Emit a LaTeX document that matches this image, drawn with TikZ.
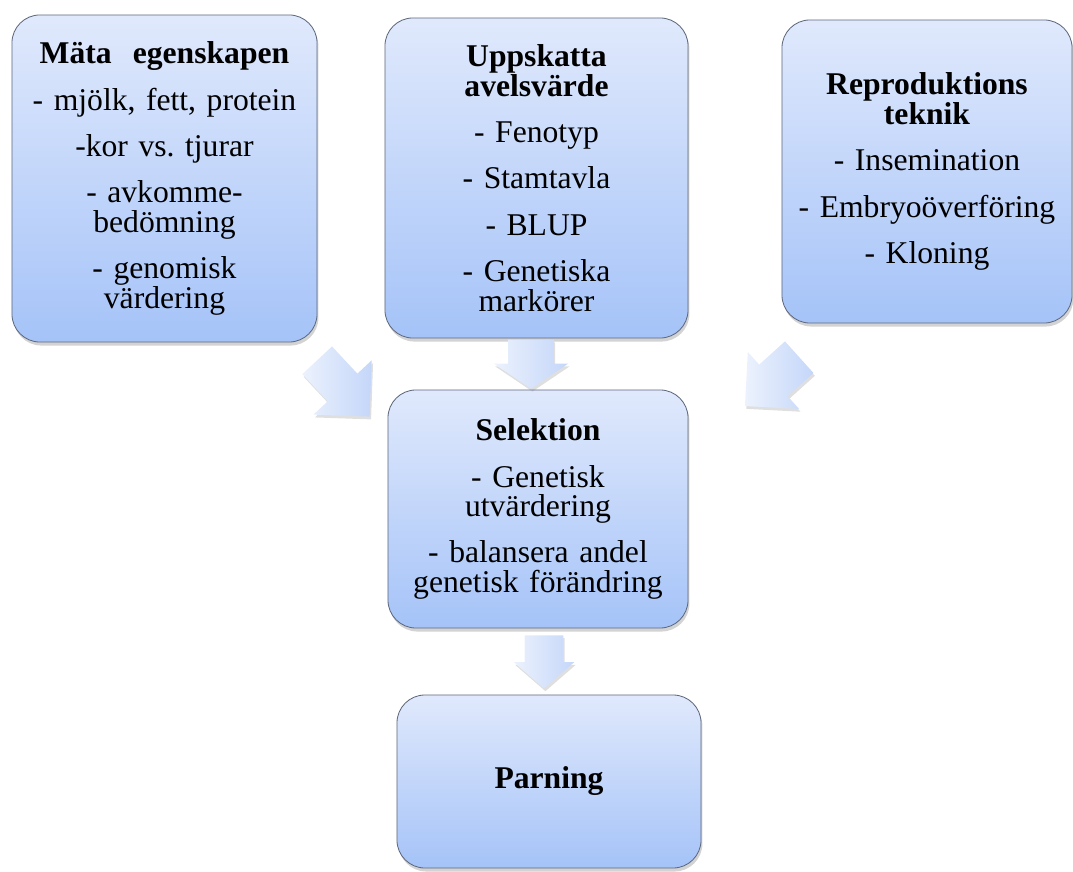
\documentclass[tikz,border=0pt]{standalone}
\usepackage{fontspec}
\setmainfont{Liberation Serif}
\usetikzlibrary{shapes.arrows,shadows}
\definecolor{boxtop}{RGB}{224,233,252}
\definecolor{boxbot}{RGB}{165,195,248}
\definecolor{boxline}{RGB}{95,105,125}
\definecolor{piltop}{RGB}{236,242,253}
\definecolor{pilbot}{RGB}{196,214,249}

\begin{document}
\begin{tikzpicture}[x=0.025cm,y=-0.025cm,
  ruta/.style={draw=boxline, line width=0.6pt, rounded corners=7mm,
    top color=boxtop, bottom color=boxbot,
    drop shadow={shadow xshift=1pt,shadow yshift=-2.5pt,opacity=0.35},
    align=center, text width=6.9cm, inner sep=2pt,
    font=\fontsize{22.5}{21}\selectfont\frenchspacing},
  pil/.style={single arrow, draw=none, inner xsep=0pt,
    left color=piltop, right color=pilbot,
    drop shadow={shadow xshift=1pt,shadow yshift=-2pt,opacity=0.25}}]
\useasboundingbox (0,0) rectangle (1073,872);

% rutor
\node[ruta, minimum width=7.625cm, minimum height=8.175cm] (maata) at (164.5,178.5)
  {\textbf{Mäta\ \ egenskapen}\\[12pt] - mjölk, fett, protein\\[12pt] -kor vs. tjurar\\[12pt]
   - avkomme-\\bedömning\\[12pt] - genomisk\\värdering};
\node[ruta, minimum width=7.575cm, minimum height=8cm] (uppsk) at (536.5,178)
  {\textbf{Uppskatta}\\\textbf{avelsvärde}\\[12pt] - Fenotyp\\[12pt] - Stamtavla\\[12pt]
   - BLUP\\[12pt] - Genetiska\\markörer};
\node[ruta, minimum width=7.25cm, minimum height=7.575cm] (repro) at (927,171.5)
  {\textbf{Reproduktions}\\\textbf{teknik}\\[12pt] - Insemination\\[12pt]
   - Embryoöverföring\\[12pt] - Kloning};
\node[ruta, minimum width=7.5cm, minimum height=5.95cm] (selek) at (538,509)
  {\textbf{Selektion}\\[12pt] - Genetisk\\utvärdering\\[12pt] - balansera andel\\genetisk förändring};
\node[ruta, minimum width=7.6cm, minimum height=4.325cm] (parn) at (549,781.5)
  {\textbf{Parning}};

% pilar
\node[pil, rotate=-47, minimum height=1.925cm, inner ysep=0.5cm,
  single arrow head extend=0.4875cm, single arrow tip angle=90] (pilA) at (336.5,381) {};
\node[pil, rotate=-90, minimum height=1.225cm, inner ysep=0.5625cm,
  single arrow head extend=0.3625cm, single arrow tip angle=112] (pilB) at (531,356.5) {};
\node[pil, rotate=222, minimum height=1.825cm, inner ysep=0.525cm,
  single arrow head extend=0.425cm, single arrow tip angle=90] (pilC) at (780,374.5) {};
\node[pil, rotate=-90, minimum height=1.325cm, inner ysep=0.475cm,
  single arrow head extend=0.275cm, single arrow tip angle=98] (pilD) at (544,653.5) {};

\end{tikzpicture}
\end{document}
